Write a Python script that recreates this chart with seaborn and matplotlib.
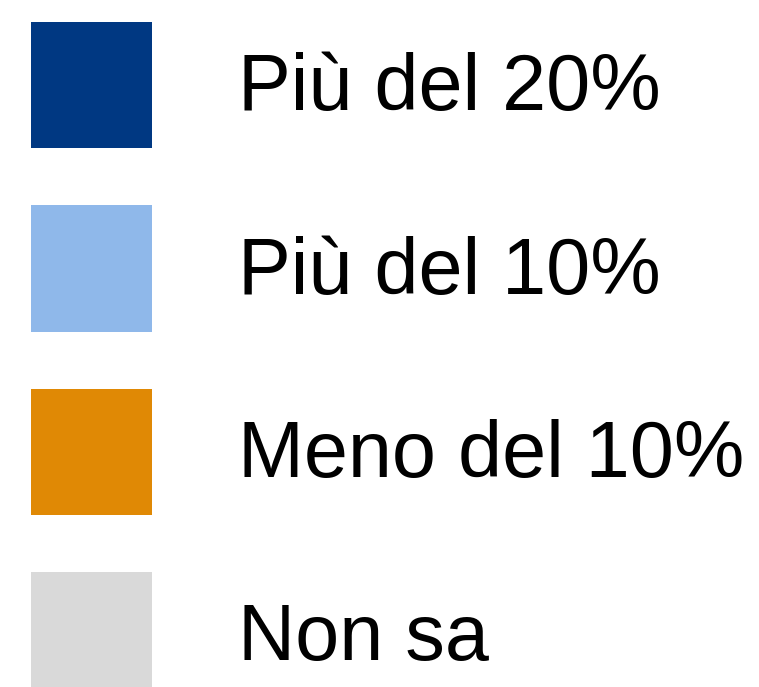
import matplotlib
matplotlib.use("Agg")
import matplotlib.pyplot as plt
import seaborn as sns
import pandas as pd

# Categorie della legenda e relativi colori
categories = ["Più del 20%", "Più del 10%", "Meno del 10%", "Non sa"]
colors = ["#003882", "#8FB8EA", "#E08905", "#D9D9D9"]
values = [1, 1, 1, 1]

sns.set_theme(style="white")
plt.rcParams["font.family"] = ["Liberation Sans", "DejaVu Sans"]
plt.rcParams["text.color"] = "black"

df = pd.DataFrame({"categoria": categories, "valore": values})

fig, ax = plt.subplots(figsize=(7.59, 6.87), dpi=100)
sns.barplot(data=df, x="categoria", y="valore", hue="categoria",
            palette=colors, saturation=1, ax=ax, legend=True)

# Il riferimento mostra solo la legenda: nascondere barre e assi
for p in ax.patches:
    p.set_visible(False)
ax.set_axis_off()

old = ax.get_legend()
handles = list(old.legend_handles)
labels = [t.get_text() for t in old.texts]
old.remove()
for h in handles:
    h.set_edgecolor("none")
    h.set_linewidth(0)

ax.legend(handles, labels,
          loc="upper left",
          bbox_to_anchor=(31 / 759, 1 - 22 / 687),
          bbox_transform=fig.transFigure,
          frameon=False,
          fontsize=57,
          labelcolor="black",
          handlelength=1.53,
          handleheight=2.08,
          handletextpad=1.09,
          labelspacing=0.72,
          borderpad=0,
          borderaxespad=0)

fig.savefig("out.png", dpi=100)
